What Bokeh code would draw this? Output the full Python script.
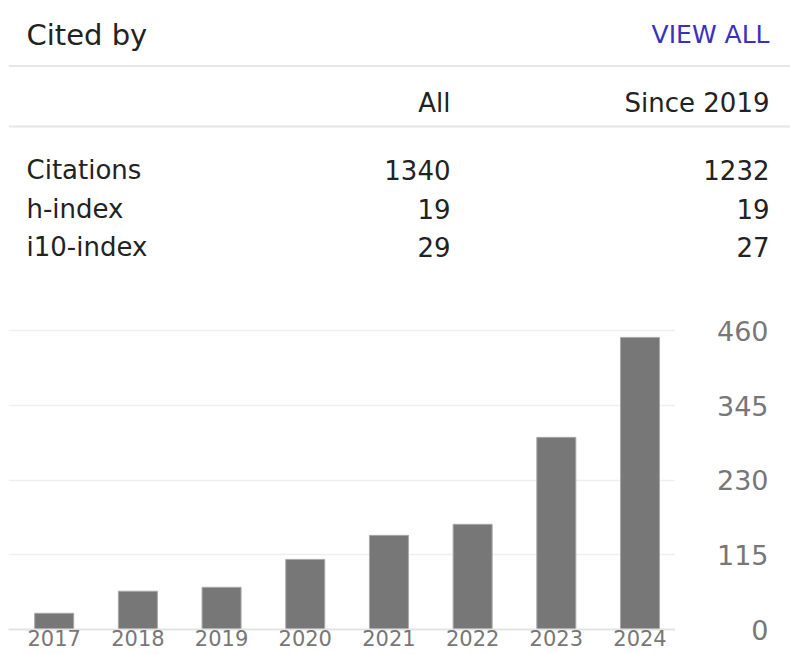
from bokeh.plotting import figure
from bokeh.layouts import column, row
from bokeh.models import Range1d, FixedTicker, Span
from bokeh.core.properties import value
from bokeh.embed import file_html
from bokeh.resources import INLINE

# ---- data ----
title_text = "Cited by"
link_text = "VIEW ALL"
col_headers = ["All", "Since 2019"]
metric_names = ["Citations", "h-index", "i10-index"]
all_values = [1340, 19, 29]
since_values = [1232, 19, 27]

years = [2017, 2018, 2019, 2020, 2021, 2022, 2023, 2024]
year_labels = ["2017", "2018", "2019", "2020", "2021", "2022", "2023", "2024"]
citations = [25, 59, 65, 108, 145, 162, 296, 450]
y_ticks = [0, 115, 230, 345, 460]

FONT = "DejaVu Sans"
TEXT = "#222222"
GRAY = "#777777"
LINE = "#e6e6e6"

# ---- header table ----
head = figure(width=790, height=290, x_range=Range1d(8, 790), y_range=Range1d(290, 0),
              x_axis_location=None, y_axis_location=None, output_backend="svg",
              toolbar_location=None, min_border=0, min_border_left=8,
              outline_line_color=None)
head.grid.visible = False

head.text(x=[26], y=[34], text=[title_text], text_font=value(FONT), text_font_size="29px",
          text_color=TEXT, text_align="left", text_baseline="alphabetic")
head.text(x=[769], y=[34], text=[link_text], text_font=value(FONT), text_font_size="25px",
          text_color="#3a30c0", text_align="right", text_baseline="alphabetic")
head.add_layout(Span(location=65.5, dimension="width", line_color=LINE, line_width=2))
head.text(x=[450, 769], y=[102, 102], text=col_headers, text_font=value(FONT),
          text_font_size="26px", text_color=TEXT, text_align="right", text_baseline="alphabetic")
head.add_layout(Span(location=126, dimension="width", line_color=LINE, line_width=2))

row_y = [169, 208, 246]
head.text(x=[26] * len(metric_names), y=row_y, text=metric_names, text_font=value(FONT),
          text_font_size="26px", text_color=TEXT, text_align="left", text_baseline="alphabetic")
head.text(x=[450] * len(all_values), y=row_y, text=[str(v) for v in all_values],
          text_font=value(FONT), text_font_size="26px", text_color=TEXT,
          text_align="right", text_baseline="alphabetic")
head.text(x=[769] * len(since_values), y=row_y, text=[str(v) for v in since_values],
          text_font=value(FONT), text_font_size="26px", text_color=TEXT,
          text_align="right", text_baseline="alphabetic")

# ---- bar chart ----
yr = Range1d(0, 476)
chart = figure(width=675, height=364, x_range=Range1d(2016.454, 2024.424), y_range=yr,
               y_axis_location=None, x_axis_location="below", output_backend="svg",
               toolbar_location=None, min_border_left=8, min_border_right=0,
               min_border_top=30, min_border_bottom=25, outline_line_color=None)
chart.xgrid.visible = False
chart.ygrid.ticker = FixedTicker(ticks=y_ticks)
chart.ygrid.grid_line_color = "#eeeeee"
chart.ygrid.grid_line_width = 1.5

chart.vbar(x=years, top=citations, width=0.466, fill_color=GRAY,
           line_color="#a8a8a8", line_width=1)

xa = chart.xaxis[0]
xa.ticker = FixedTicker(ticks=years)
xa.major_label_overrides = {y: l for y, l in zip(years, year_labels)}
xa.major_tick_line_color = None
xa.minor_tick_line_color = None
xa.major_tick_out = 0
xa.minor_tick_out = 0
xa.axis_line_color = "#e3e3e3"
xa.axis_line_width = 2
xa.major_label_standoff = 0
xa.major_label_text_font = FONT
xa.major_label_text_font_size = "21px"
xa.major_label_text_color = GRAY

# ---- right-hand value axis (right-aligned labels) ----
yfig = figure(width=115, height=364, x_range=Range1d(0, 1), y_range=yr,
              x_axis_location=None, y_axis_location="left", output_backend="svg",
              toolbar_location=None, min_border_left=93, min_border_right=0,
              min_border_top=30, min_border_bottom=25, outline_line_color=None)
yfig.grid.visible = False
ya = yfig.yaxis[0]
ya.ticker = FixedTicker(ticks=y_ticks)
ya.axis_line_color = None
ya.major_tick_line_color = None
ya.minor_tick_line_color = None
ya.major_tick_out = 0
ya.minor_tick_out = 0
ya.major_label_standoff = 0
ya.major_label_text_font = FONT
ya.major_label_text_font_size = "27px"
ya.major_label_text_color = GRAY

layout = column(head, row(chart, yfig))

open("out.html", "w").write(file_html(layout, INLINE, title="Cited by"))
